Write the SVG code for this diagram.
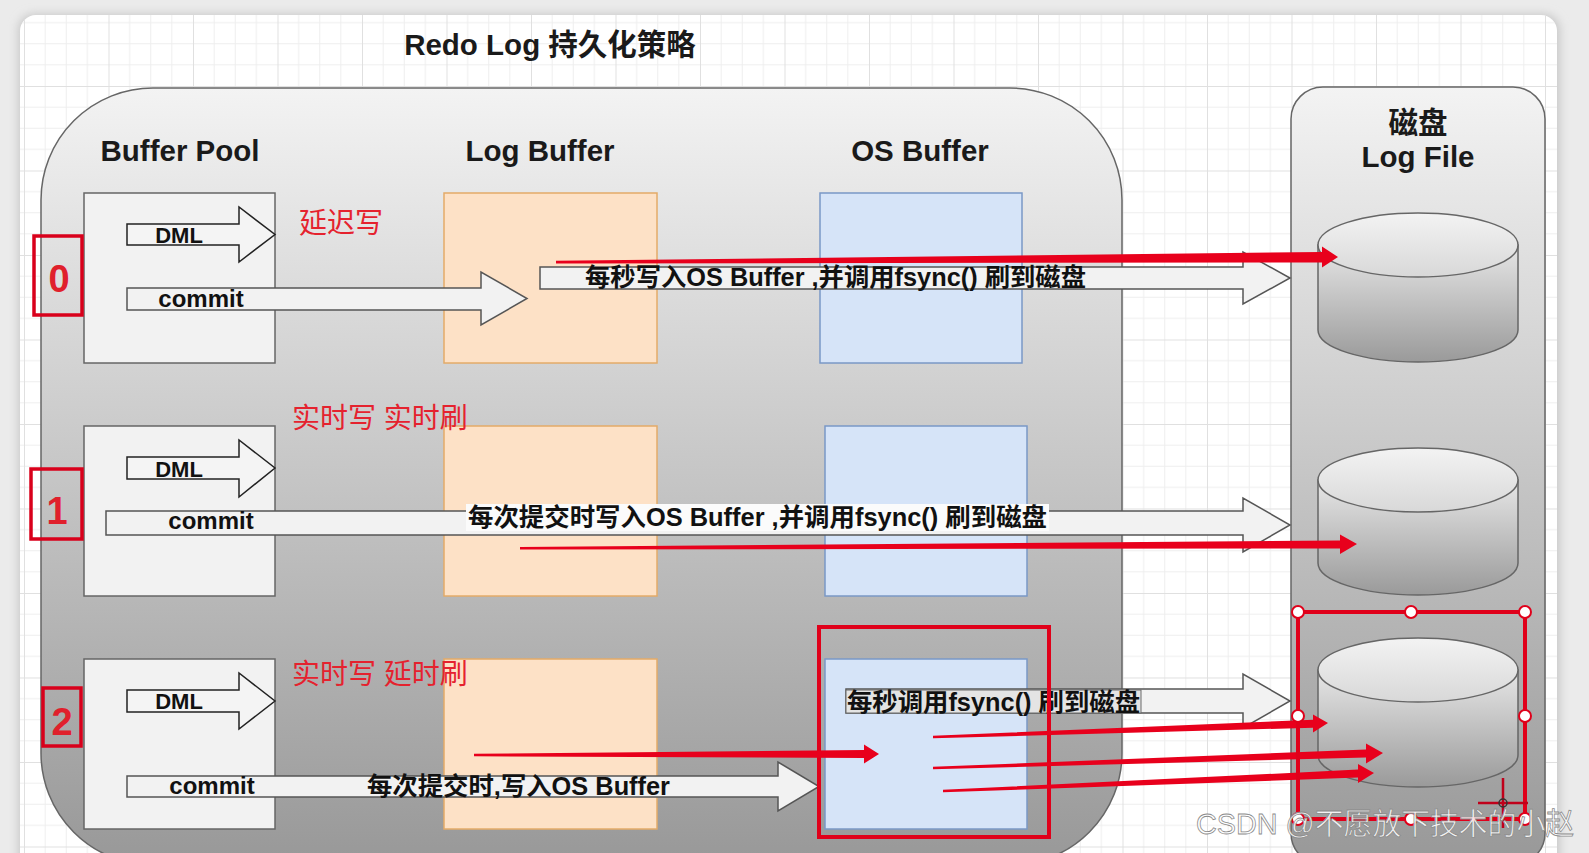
<svg xmlns="http://www.w3.org/2000/svg" width="1589" height="853" viewBox="0 0 1589 853">
<style>
text{font-family:"Liberation Sans","Noto Sans CJK SC",sans-serif;}
.hdr{font-size:29.5px;font-weight:bold;fill:#1a1a1a;text-anchor:middle;}
.box{fill:#f2f2f2;stroke:#666;stroke-width:1.5;}
.lb{fill:#fde1c6;stroke:#e3ab68;stroke-width:1.5;}
.os{fill:#d6e4f8;stroke:#7a98c6;stroke-width:1.5;}
.garrow{fill:#f2f2f2;stroke:#555;stroke-width:1.5;stroke-linejoin:miter;}
.darrow{fill:#f4f4f4;stroke:#222;stroke-width:1.5;}
.atxt{font-size:24px;font-weight:bold;fill:#111;text-anchor:middle;}
.dtxt{font-size:22px;font-weight:bold;fill:#111;text-anchor:middle;}
.ltxt{font-size:25px;font-weight:bold;fill:#111;dominant-baseline:central;}
.num{fill:none;stroke:#d9001b;stroke-width:3.5;}
.numt{font-size:38px;font-weight:bold;fill:#e0202c;text-anchor:middle;}
.rlab{font-size:28px;fill:#e5222e;dominant-baseline:central;}
.red{fill:#e8001c;}
.sel{fill:none;stroke:#e0001a;stroke-width:4;}
.hdl{fill:#fff;stroke:#e0001a;stroke-width:2;}
.cylb{fill:url(#cylBody);stroke:#666;stroke-width:1.5;}
.cylt{fill:url(#cylTop);stroke:#666;stroke-width:1.5;}
</style>
<defs>
<pattern id="grid" x="24" y="1.5" width="84.5" height="84.5" patternUnits="userSpaceOnUse">
<path d="M21.125 0V84.5M42.25 0V84.5M63.375 0V84.5M0 21.125H84.5M0 42.25H84.5M0 63.375H84.5" stroke="#eeeeee" stroke-width="1" fill="none"/>
<path d="M0.5 0V84.5M0 0.5H84.5" stroke="#e0e0e0" stroke-width="1" fill="none"/>
</pattern>
<linearGradient id="cont" x1="0" y1="0" x2="0" y2="1">
<stop offset="0" stop-color="#f3f3f3"/>
<stop offset="1" stop-color="#989898"/>
</linearGradient>
<linearGradient id="cylBody" x1="0" y1="0" x2="0" y2="1">
<stop offset="0" stop-color="#e6e6e6"/>
<stop offset="1" stop-color="#9a9a9a"/>
</linearGradient>
<linearGradient id="cylTop" x1="0" y1="0" x2="0" y2="1">
<stop offset="0" stop-color="#f3f3f3"/>
<stop offset="1" stop-color="#d8d8d8"/>
</linearGradient>
<filter id="shadow" x="-5%" y="-5%" width="110%" height="110%">
<feGaussianBlur stdDeviation="5"/>
</filter>
</defs>

<rect x="0" y="0" width="1589" height="853" fill="#ebebeb"/>
<rect x="18" y="14" width="1542" height="870" rx="16" fill="#c8c8c8" filter="url(#shadow)"/>
<rect x="20" y="15" width="1537" height="870" rx="16" fill="#ffffff"/>
<rect x="20" y="15" width="1537" height="870" rx="16" fill="url(#grid)"/>

<g id="title">
<text x="550" y="55" class="hdr">Redo Log 持久化策略</text>
</g>

<g id="mysql-container">
<rect x="41" y="88" width="1081" height="777" rx="112" fill="url(#cont)" stroke="#666" stroke-width="1.5"/>
<text x="180" y="161" class="hdr">Buffer Pool</text>
<text x="540" y="161" class="hdr">Log Buffer</text>
<text x="920" y="161" class="hdr">OS Buffer</text>
</g>

<g id="disk-container">
<rect x="1291" y="87" width="254" height="778" rx="32" fill="url(#cont)" stroke="#666" stroke-width="1.5"/>
<text x="1418" y="133" class="hdr">磁盘</text>
<text x="1418" y="167" class="hdr">Log File</text>
</g>

<g id="buffer-pool-0"><rect x="84" y="193" width="191" height="170" class="box"/></g>
<g id="buffer-pool-1"><rect x="84" y="426" width="191" height="170" class="box"/></g>
<g id="buffer-pool-2"><rect x="84" y="659" width="191" height="170" class="box"/></g>

<g id="log-buffer-0"><rect x="444" y="193" width="213" height="170" class="lb"/></g>
<g id="log-buffer-1"><rect x="444" y="426" width="213" height="170" class="lb"/></g>
<g id="log-buffer-2"><rect x="444" y="659" width="213" height="170" class="lb"/></g>

<g id="os-buffer-0"><rect x="820" y="193" width="202" height="170" class="os"/></g>
<g id="os-buffer-1"><rect x="825" y="426" width="202" height="170" class="os"/></g>
<g id="os-buffer-2"><rect x="825" y="659" width="202" height="170" class="os"/></g>

<g id="log-file-0">
<path d="M1318 245V330A100 32 0 0 0 1518 330V245Z" class="cylb"/>
<ellipse cx="1418" cy="245" rx="100" ry="32" class="cylt"/>
</g>
<g id="log-file-1">
<path d="M1318 480V563A100 32 0 0 0 1518 563V480Z" class="cylb"/>
<ellipse cx="1418" cy="480" rx="100" ry="32" class="cylt"/>
</g>
<g id="log-file-2">
<path d="M1318 670V755A100 32 0 0 0 1518 755V670Z" class="cylb"/>
<ellipse cx="1418" cy="670" rx="100" ry="32" class="cylt"/>
</g>

<g id="mode-0">
<rect x="34" y="236" width="48" height="79" class="num"/>
<text x="59" y="292" class="numt">0</text>
<text x="299" y="223" class="rlab">延迟写</text>
</g>
<g id="mode-1">
<rect x="31" y="469" width="51" height="70" class="num"/>
<text x="57" y="524" class="numt">1</text>
<text x="292" y="418" class="rlab">实时写 实时刷</text>
</g>
<g id="mode-2">
<rect x="43" y="688" width="38" height="58" class="num"/>
<text x="62" y="735" class="numt">2</text>
<text x="292" y="674" class="rlab">实时写 延时刷</text>
</g>

<g id="connectors">
<polygon class="darrow" points="127,224 239,224 239,207 275,234.5 239,262 239,245 127,245"/>
<text x="179" y="243" class="dtxt">DML</text>
<polygon class="garrow" points="127,288 481,288 481,272 527,298.5 481,325 481,310 127,310"/>
<text x="201" y="307" class="atxt">commit</text>
<polygon class="garrow" points="540,267 1243,267 1243,252 1290,278 1243,304 1243,289 540,289"/>
<text x="585" y="277" class="ltxt" textLength="501" lengthAdjust="spacingAndGlyphs">每秒写入OS Buffer ,并调用fsync() 刷到磁盘</text>

<polygon class="darrow" points="127,457 239,457 239,440 275,468 239,497 239,479 127,479"/>
<text x="179" y="477" class="dtxt">DML</text>
<polygon class="garrow" points="106,511 1243,511 1243,498 1290,525 1243,552 1243,535 106,535"/>
<text x="211" y="529" class="atxt">commit</text>
<rect x="466" y="504" width="583" height="27" fill="#fbfbfb"/>
<text x="468" y="517" class="ltxt" textLength="579" lengthAdjust="spacingAndGlyphs">每次提交时写入OS Buffer ,并调用fsync() 刷到磁盘</text>

<polygon class="darrow" points="127,690 239,690 239,673 275,701 239,729 239,712 127,712"/>
<text x="179" y="709" class="dtxt">DML</text>
<polygon class="garrow" points="127,776 778,776 778,762 819,786.5 778,811 778,797 127,797"/>
<text x="212" y="794" class="atxt">commit</text>
<text x="367" y="786" class="ltxt" textLength="303" lengthAdjust="spacingAndGlyphs">每次提交时,写入OS Buffer</text>
<polygon class="garrow" points="846,689 1243,689 1243,674 1290,701 1243,728 1243,713 846,713"/>
<rect x="846" y="690" width="295" height="23" fill="#e4e4e4" stroke="#6a6a6a" stroke-width="1"/>
<text x="847" y="702" class="ltxt" textLength="293" lengthAdjust="spacingAndGlyphs">每秒调用fsync() 刷到磁盘</text>
</g>

<g id="annotations">
<rect x="819" y="627" width="230" height="210" class="sel"/>
<polygon class="red" points="556,260.8 1322,252 1322,246.5 1338,257 1322,267.5 1322,262.5 556,263.4"/>
<polygon class="red" points="520,547 1340,540.5 1340,534.5 1357,544 1340,554 1340,548.5 520,549.4"/>
<polygon class="red" points="474,753.8 864,750 864,744.5 879,754 864,763.5 864,758 474,756.3"/>
<polygon class="red" points="933,735.8 1313,719.7 1313,714.5 1328,723 1313,732.5 1313,727.7 933,738.3"/>
<polygon class="red" points="933,766.8 1366,749.5 1366,743.5 1383,753 1366,763.5 1366,757.5 933,769.3"/>
<polygon class="red" points="943,789.8 1358,769.6 1358,764 1374,773 1358,783 1358,777.6 943,792.3"/>
<rect x="1298" y="612" width="227" height="207" class="sel"/>
<circle cx="1298" cy="612" r="6" class="hdl"/>
<circle cx="1411" cy="612" r="6" class="hdl"/>
<circle cx="1525" cy="612" r="6" class="hdl"/>
<circle cx="1298" cy="716" r="6" class="hdl"/>
<circle cx="1525" cy="716" r="6" class="hdl"/>
<circle cx="1298" cy="819" r="6" class="hdl"/>
<circle cx="1411" cy="819" r="6" class="hdl"/>
<circle cx="1525" cy="819" r="6" class="hdl"/>
<path d="M1503 778V828M1478 803H1528" stroke="#c0001a" stroke-width="2.5" fill="none"/>
<circle cx="1503" cy="803" r="4" fill="none" stroke="#333" stroke-width="1.5"/>
</g>

<g id="watermark">
<text x="1196" y="834" font-size="30" fill="#ffffff" fill-opacity="0.9" stroke="#8a8a8a" stroke-width="0.8" textLength="378" lengthAdjust="spacingAndGlyphs">CSDN @不愿放下技术的小赵</text>
</g>
</svg>
